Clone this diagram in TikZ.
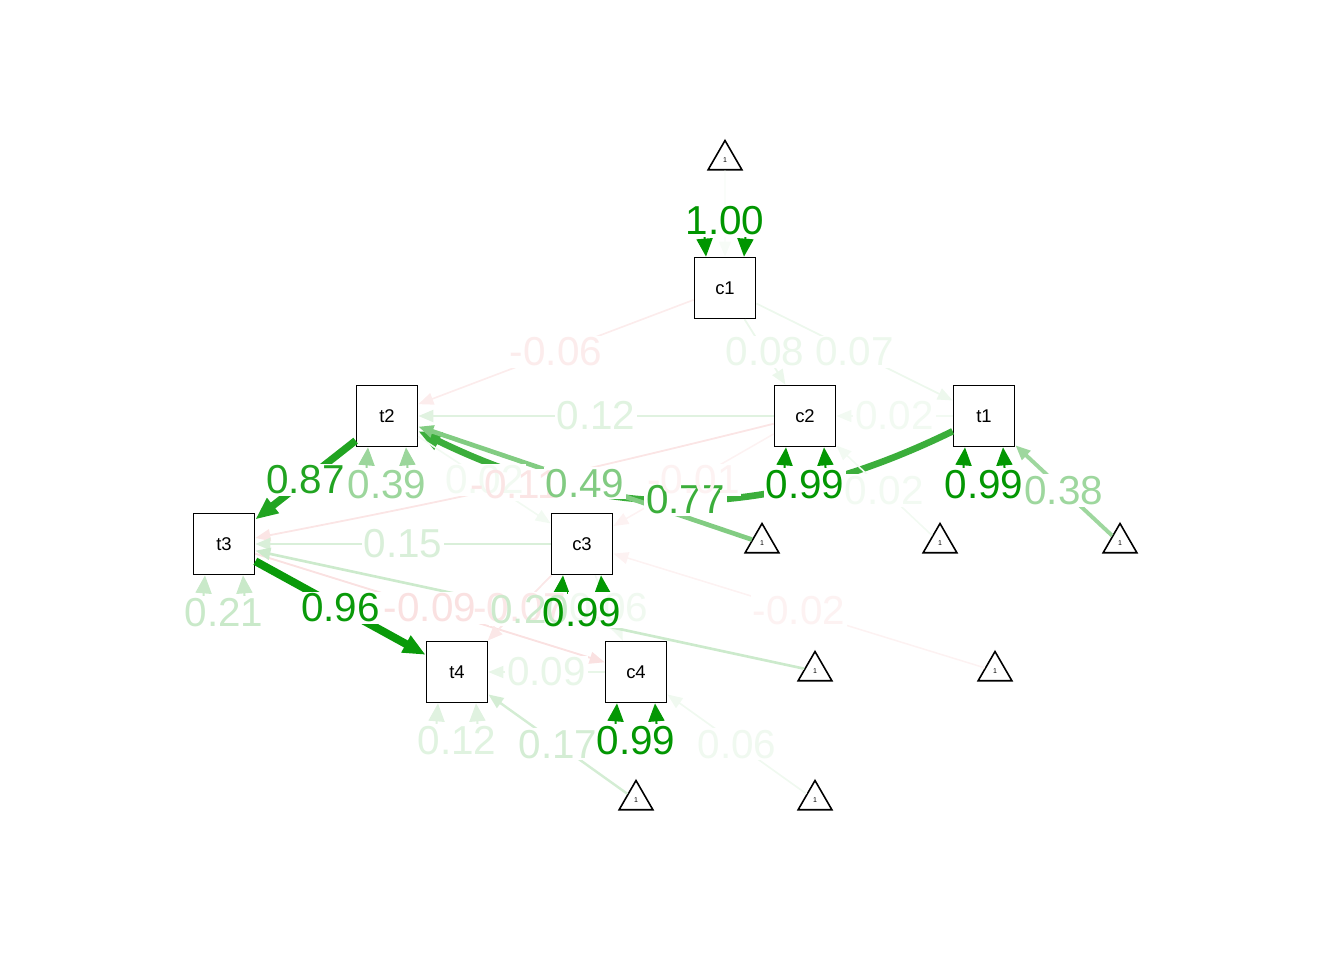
\documentclass[tikz,border=0pt]{standalone}
\usepackage{fontspec}
\setmainfont{Liberation Sans}
\usetikzlibrary{arrows.meta}
\usetikzlibrary{calc}
\usetikzlibrary{shapes.geometric}

\definecolor{pathgreen}{RGB}{0,150,0}
\definecolor{pathred}{RGB}{220,40,40}

\tikzset{
  manifest/.style={draw, fill=white, line width=1pt, minimum size=1.22cm,
    inner sep=0pt, font=\fontsize{10.5}{10.5}\selectfont},
  intercept/.style={draw, fill=white, line width=0.9pt, regular polygon,
    regular polygon sides=3, minimum size=0.78cm, inner sep=0pt,
    font=\fontsize{4}{4}\selectfont},
  posedge/.style={draw=pathgreen!#1!white, line width={(0.25+0.014*#1)*1mm},
    -{Triangle[length=3mm, width=2.4mm]}},
  negedge/.style={draw=pathred!#1!white, line width={(0.25+0.009*#1)*1mm},
    -{Triangle[length=3mm, width=2.4mm]}},
  bigtip/.style={-{Triangle[length=3mm, width=2.4mm, scale=1.5]}},
  resid/.style={draw=pathgreen!#1!white, line width=0.4mm,
    {Triangle[length=3.6mm, width=3.2mm]}-{Triangle[length=3.6mm, width=3.2mm]}},
  lbl/.style={font=\fontsize{23}{23}\selectfont, inner sep=1pt}
}

\begin{document}
\begin{tikzpicture}[x=0.02cm, y=-0.02cm]

    \useasboundingbox (0, 0) rectangle (1344, 960);

    % observed variables and intercepts
    \foreach \n/\x/\y in {c1/725/288, t2/387/416, c2/805/416, t1/984/416,
      t3/224/544, c3/582/544, t4/457/672, c4/636/672}
      \node [manifest] (\n) at (\x, \y) {\n};

    \foreach \n/\x/\y in {i1/725/160, i2/762/543, i3/940/543, i4/1120/543,
      i5/815/671, i6/995/671, i7/636/800, i8/815/800}
      \node [intercept] (\n) at (\x, \y) {1};

    % regressions
    \draw [negedge=9] (c1) -- coordinate [midway] (c1t2) (t2);
    \draw [posedge=8] (c1) -- coordinate [midway] (c1c2) (c2);
    \draw [posedge=7] (c1) -- coordinate [midway] (c1t1) (t1);
    \draw [posedge=12] (c2) -- coordinate [midway] (c2t2) (t2);
    \draw [posedge=5] (t1) -- coordinate [midway] (t1c2) (c2);
    \draw [posedge=77, bigtip] (t1) to [bend left=26] coordinate [midway] (t1t2) (t2);
    \draw [posedge=87, bigtip] (t2) -- coordinate [midway] (t2t3) (t3);
    \draw [posedge=5] (t2) -- coordinate [midway] (t2c3) (c3);
    \draw [negedge=12] (c2) to [bend left=1.5] coordinate [midway] (c2t3) (t3);
    \draw [negedge=6] (c2) -- coordinate [midway] (c2c3) (c3);
    \draw [posedge=15] (c3) -- coordinate [midway] (c3t3) (t3);
    \draw [posedge=96, bigtip] (t3) -- coordinate [midway] (t3t4) (t4);
    \draw [negedge=14] (t3) -- coordinate [midway] (t3c4) (c4);
    \draw [negedge=11] (c3) -- coordinate [midway] (c3t4) (t4);
    \draw [posedge=6] (c3) -- coordinate [midway] (c3c4) (c4);
    \draw [posedge=9] (c4) -- coordinate [midway] (c4t4) (t4);

    % intercept paths
    \draw [posedge=3] (i1) -- (c1);
    \draw [posedge=49] (i2) -- coordinate [midway] (i2t2) (t2);
    \draw [posedge=5] (i3) -- coordinate [midway] (i3c2) (c2);
    \draw [posedge=38] (i4) -- coordinate [midway] (i4t1) (t1);
    \draw [posedge=20] (i5) -- coordinate [midway] (i5t3) (t3);
    \draw [negedge=6] (i6) -- coordinate [midway] (i6c3) (c3);
    \draw [posedge=17] (i7) -- coordinate [midway] (i7t4) (t4);
    \draw [posedge=6] (i8) -- coordinate [midway] (i8c4) (c4);

    % residual variances
    \draw [resid=100] ($(c1.north)+(-19, 0)$) .. controls +(-4, -50) and +(4, -50) .. ($(c1.north)+(19, 0)$);
    \coordinate (rc1) at ($(c1.north)+(0, -36)$);
    \foreach \n/\s in {t2/39, c2/99, t1/99, t3/21, c3/99, t4/12, c4/99} {
      \draw [resid=\s] ($(\n.south)+(-19, 0)$) .. controls +(-4, 50) and +(4, 50) .. ($(\n.south)+(19, 0)$);
      \coordinate (r\n) at ($(\n.south)+(0, 37)$);
    }

    % labels: backgrounds first, then texts
    \def\labellist{c1t2/-0.06/pathred!9!white, c1c2/0.08/pathgreen!8!white,
      c1t1/0.07/pathgreen!7!white, c2t2/0.12/pathgreen!12!white,
      t1c2/0.02/pathgreen!5!white, t1t2/0.77/pathgreen!77!white,
      t2t3/0.87/pathgreen!87!white, t2c3/0.02/pathgreen!5!white,
      c2t3/-0.11/pathred!12!white, c2c3/-0.01/pathred!6!white,
      c3t3/0.15/pathgreen!15!white, t3t4/0.96/pathgreen!96!white,
      t3c4/-0.09/pathred!14!white, c3t4/-0.07/pathred!11!white,
      c3c4/0.06/pathgreen!6!white, c4t4/0.09/pathgreen!9!white,
      i2t2/0.49/pathgreen!49!white, i3c2/0.02/pathgreen!5!white,
      i4t1/0.38/pathgreen!38!white, i5t3/0.20/pathgreen!20!white,
      i6c3/-0.02/pathred!6!white, i7t4/0.17/pathgreen!17!white,
      i8c4/0.06/pathgreen!6!white,
      rc1/1.00/pathgreen, rt2/0.39/pathgreen!39!white, rc2/0.99/pathgreen!99!white,
      rt1/0.99/pathgreen!99!white, rt3/0.21/pathgreen!21!white,
      rc3/0.99/pathgreen!99!white, rt4/0.12/pathgreen!12!white,
      rc4/0.99/pathgreen!99!white}

    \foreach \m/\v/\c in \labellist
      \node [lbl, fill=white] at (\m) {\phantom{\v}};
    \foreach \m/\v/\c in \labellist
      \node [lbl, text=\c] at (\m) {\v};

  \end{tikzpicture}
\end{document}
